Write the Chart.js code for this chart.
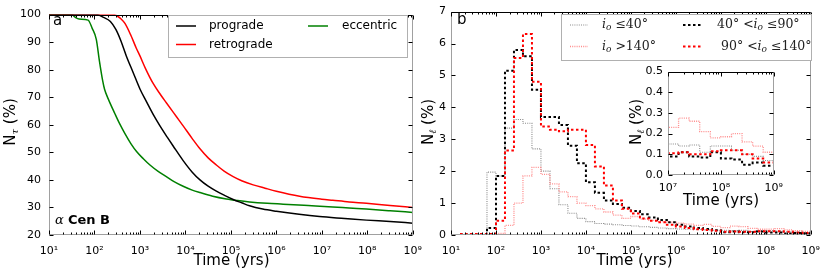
<!DOCTYPE html>
<html>
<head>
<meta charset="utf-8">
<script src="https://cdn.jsdelivr.net/npm/chart.js@4.4.1/dist/chart.umd.min.js"></script>
<style>
  html, body { margin: 0; padding: 0; background: #fff; }
  #wrap { position: relative; width: 830px; height: 274px; overflow: hidden; }
  canvas { position: absolute; }
</style>
</head>
<body>
<div id="wrap">
  <canvas id="chartA" width="432" height="274" style="left:0;top:0"></canvas>
  <canvas id="chartB" width="415" height="274" style="left:415px;top:0"></canvas>
  <canvas id="chartInset" width="170" height="155" style="left:620px;top:60px"></canvas>
</div>
<script>
// ---- panel a: fraction of surviving planets N_tau (%) vs log10(time / yr)
const progradeLogT = [1, 2.05, 2.2, 2.35, 2.47, 2.58, 2.7, 2.85, 3.0, 3.14, 3.3, 3.44, 3.6, 3.73, 3.95, 4.15, 4.32, 4.5, 4.68, 4.87, 5.05, 5.25, 5.41, 5.7, 6.0, 6.5, 6.95, 7.5, 7.98, 8.5, 9];
const progradeN    = [100, 100, 99, 97.5, 94.6, 90.5, 85, 79, 73, 68.5, 63.5, 59.6, 55.5, 52.3, 47, 42.8, 40, 37.7, 35.9, 34.3, 32.9, 31.6, 30.6, 29.4, 28.6, 27.5, 26.7, 26.0, 25.4, 24.9, 24.3];
const retroLogT = [1, 2.42, 2.5, 2.58, 2.67, 2.8, 2.92, 3.0, 3.12, 3.29, 3.45, 3.58, 3.8, 3.95, 4.15, 4.32, 4.5, 4.68, 4.85, 5.05, 5.25, 5.49, 5.75, 6.0, 6.51, 7.0, 7.24, 7.6, 7.98, 8.5, 9];
const retroN    = [100, 100, 99.5, 98.5, 96.8, 92.5, 87.8, 85, 80.5, 75, 71, 68, 63, 59.6, 55, 51.3, 48, 45.4, 43.2, 41.2, 39.6, 38.2, 37, 35.9, 34.1, 33, 32.6, 32, 31.5, 30.7, 30.0];
const eccLogT = [1, 1.5, 1.58, 1.66, 1.86, 1.95, 2.04, 2.11, 2.18, 2.22, 2.3, 2.45, 2.55, 2.67, 2.8, 2.93, 3.08, 3.22, 3.4, 3.58, 3.75, 3.95, 4.15, 4.32, 4.6, 4.9, 5.15, 5.41, 5.8, 6.15, 6.7, 7.24, 7.6, 7.98, 8.5, 9];
const eccN    = [100, 100, 99, 98.4, 98.0, 95, 91, 83, 76, 73, 69.5, 64, 60.5, 56.8, 53.2, 50.2, 47.6, 45.4, 43.1, 41.2, 39.4, 37.7, 36.3, 35.4, 34.1, 33.1, 32.5, 32.0, 31.5, 31.2, 30.7, 30.2, 29.8, 29.4, 28.8, 28.2];

// ---- panel b: histograms N_l (%), bins 0.2 dex wide from 10^1 to 10^9
const binStartLog = 1;
const binWidthLog = 0.2;
const lowIncl   = [null, 0.02, 0.02, 0.02, 1.97, 1.85, 3.35, 3.62, 3.5, 2.7, 2.0, 1.45, 0.95, 0.68, 0.52, 0.42, 0.36, 0.34, 0.32, 0.3, 0.28, 0.26, 0.24, 0.22, 0.2, 0.19, 0.18, 0.17, 0.16, 0.15, 0.15, 0.14, 0.145, 0.11, 0.14, 0.14, 0.12, 0.1, 0.09, 0.07];
const midIncl   = [null, 0.02, 0.02, 0.02, 0.22, 1.85, 5.15, 5.8, 5.6, 4.55, 3.7, 3.7, 3.45, 2.8, 2.25, 1.65, 1.32, 1.08, 0.97, 0.85, 0.75, 0.65, 0.55, 0.47, 0.4, 0.32, 0.27, 0.22, 0.19, 0.15, 0.09, 0.11, 0.09, 0.085, 0.11, 0.08, 0.075, 0.05, 0.06, 0.045];
const retroIncl = [null, 0.03, 0.03, 0.03, 0.03, 0.45, 2.65, 5.55, 6.3, 4.8, 3.4, 3.3, 3.25, 3.3, 3.3, 2.82, 2.15, 1.55, 1.08, 0.82, 0.67, 0.52, 0.45, 0.4, 0.32, 0.27, 0.22, 0.18, 0.16, 0.13, 0.105, 0.11, 0.1, 0.1, 0.115, 0.12, 0.12, 0.1, 0.08, 0.06];
const highIncl  = [null, 0.01, 0.01, 0.01, 0.01, 0.05, 0.3, 1.0, 1.85, 2.12, 1.9, 1.6, 1.35, 1.2, 1.0, 0.92, 0.82, 0.72, 0.62, 0.52, 0.58, 0.5, 0.46, 0.42, 0.4, 0.37, 0.34, 0.3, 0.33, 0.27, 0.23, 0.275, 0.26, 0.21, 0.18, 0.185, 0.2, 0.16, 0.14, 0.11];

// tick labels
const timeTickExps  = [1, 2, 3, 4, 5, 6, 7, 8, 9];
const insetTickExps = [7, 8, 9];

const SANS = '"DejaVu Sans", sans-serif';
const SERIF = '"DejaVu Serif", serif';
const SUP = ['⁰', '¹', '²', '³', '⁴', '⁵', '⁶', '⁷', '⁸', '⁹'];

Chart.defaults.font.family = SANS;
Chart.defaults.color = '#000';

const curve = (logs, vals) => logs.map((l, i) => ({x: Math.pow(10, l), y: vals[i]}));
const steps = vals => {
    const pts = vals.map((v, k) => ({x: Math.pow(10, binStartLog + binWidthLog * k), y: v}));
    pts.push({x: Math.pow(10, binStartLog + binWidthLog * vals.length), y: vals[vals.length - 1]});
    return pts;
};

const histStyles = {
    low:   {borderColor: '#8a8a8a', borderWidth: 1.1, borderDash: [1, 1.2]},
    high:  {borderColor: '#ff8c8c', borderWidth: 1.3, borderDash: [1, 1.2]},
    mid:   {borderColor: '#000000', borderWidth: 2, borderDash: [2.5, 2.5]},
    retro: {borderColor: '#ff0000', borderWidth: 2, borderDash: [2.5, 2.5]}
};

const histDatasets = () => [
    Object.assign({data: steps(retroIncl)}, histStyles.retro),
    Object.assign({data: steps(midIncl)}, histStyles.mid),
    Object.assign({data: steps(highIncl)}, histStyles.high),
    Object.assign({data: steps(lowIncl)}, histStyles.low)
].map(d => Object.assign(d, {stepped: true, pointRadius: 0, fill: false, spanGaps: false, borderCapStyle: 'butt'}));

// rich text: parts = [text, font, dy]
function drawRich(ctx, x, y, parts, align) {
    let w = 0;
    parts.forEach(p => { ctx.font = p[1]; w += ctx.measureText(p[0]).width; });
    let cx = align === 'center' ? x - w / 2 : x;
    ctx.textAlign = 'left';
    parts.forEach(p => {
        ctx.font = p[1];
        ctx.fillText(p[0], cx, y + (p[2] || 0));
        cx += ctx.measureText(p[0]).width;
    });
}

function drawVertTitle(ctx, baseX, centerY, parts) {
    ctx.save();
    ctx.translate(baseX, centerY);
    ctx.rotate(-Math.PI / 2);
    ctx.textBaseline = 'alphabetic';
    drawRich(ctx, 0, 0, parts, 'center');
    ctx.restore();
}

function sampleLine(ctx, x0, x1, y, st) {
    ctx.save();
    ctx.strokeStyle = st.borderColor;
    ctx.lineWidth = st.borderWidth;
    ctx.setLineDash(st.borderDash || []);
    ctx.beginPath();
    ctx.moveTo(x0, y);
    ctx.lineTo(x1, y);
    ctx.stroke();
    ctx.restore();
}

// spines + inward ticks on all four sides
const frame = {
    id: 'frame',
    afterDatasetsDraw(chart) {
        const {ctx, chartArea: a, scales: {x, y}} = chart;
        const L = Math.round(a.left) + 0.5, R = Math.round(a.right) - 0.5;
        const T = Math.round(a.top) + 0.5, B = Math.round(a.bottom) - 0.5;
        ctx.save();
        ctx.lineWidth = 1;
        ctx.strokeStyle = '#a0a0a0';
        ctx.beginPath();
        ctx.moveTo(L, B); ctx.lineTo(L, T);
        ctx.moveTo(R, T); ctx.lineTo(R, B); ctx.lineTo(L, B);
        ctx.stroke();
        ctx.strokeStyle = '#000';
        ctx.beginPath();
        ctx.moveTo(L, T); ctx.lineTo(R, T);
        const lo = Math.round(Math.log10(x.min)), hi = Math.round(Math.log10(x.max));
        for (let d = lo; d <= hi; d++) {
            for (let m = 1; m <= 9; m++) {
                const v = m * Math.pow(10, d);
                if (v > x.max * 1.001) continue;
                const px = Math.round(x.getPixelForValue(v)) + 0.5;
                const len = m === 1 ? 4 : 2;
                ctx.moveTo(px, B); ctx.lineTo(px, B - len);
                ctx.moveTo(px, T); ctx.lineTo(px, T + len);
            }
        }
        y.ticks.forEach(t => {
            const py = Math.round(y.getPixelForValue(t.value)) + 0.5;
            ctx.moveTo(L, py); ctx.lineTo(L + 4, py);
            ctx.moveTo(R, py); ctx.lineTo(R - 4, py);
        });
        ctx.stroke();
        ctx.restore();
    }
};

function logAxis(min, max, exps, pad, height) {
    return {
        type: 'logarithmic', min: min, max: max,
        grid: {display: false, drawTicks: false}, border: {display: false},
        afterBuildTicks: s => { s.ticks = exps.map(e => ({value: Math.pow(10, e)})); },
        afterFit: s => { s.height = height; },
        ticks: {
            autoSkip: false, maxRotation: 0, padding: pad,
            font: {size: 11},
            callback: v => '10' + SUP[Math.round(Math.log10(v))]
        }
    };
}

function linAxis(min, max, step, pad, width, digits) {
    return {
        type: 'linear', min: min, max: max,
        grid: {display: false, drawTicks: false}, border: {display: false},
        afterFit: s => { s.width = width; },
        ticks: {
            stepSize: step, padding: pad, font: {size: 11},
            callback: v => digits ? v.toFixed(digits) : String(v)
        }
    };
}

const baseOpts = {
    responsive: false, animation: false, devicePixelRatio: 1,
    plugins: {legend: {display: false}, tooltip: {enabled: false}}
};

// ---------------- panel a ----------------
const annotA = {
    id: 'annotA',
    afterDraw(chart) {
        const ctx = chart.ctx;
        ctx.save();
        // legend
        ctx.fillStyle = '#fff';
        ctx.fillRect(168, 15, 239, 42);
        ctx.strokeStyle = '#b0b0b0';
        ctx.lineWidth = 1;
        ctx.strokeRect(168.5, 15.5, 239, 42);
        sampleLine(ctx, 176, 196, 26, {borderColor: '#000', borderWidth: 1.5});
        sampleLine(ctx, 176, 196, 44.5, {borderColor: '#ff0000', borderWidth: 1.5});
        sampleLine(ctx, 308, 328, 26, {borderColor: '#008000', borderWidth: 1.5});
        ctx.fillStyle = '#000';
        ctx.textBaseline = 'middle';
        ctx.font = '12px ' + SANS;
        ctx.fillText('prograde', 209, 26);
        ctx.fillText('retrograde', 209, 44.5);
        ctx.fillText('eccentric', 342, 26);
        // labels
        ctx.textBaseline = 'alphabetic';
        ctx.font = '15px ' + SANS;
        ctx.fillText('a', 53, 25);
        drawRich(ctx, 55, 224, [['α ', 'italic 13px ' + SERIF], ['Cen B', 'bold 13px ' + SANS]]);
        ctx.font = '15px ' + SANS;
        ctx.textAlign = 'center';
        ctx.fillText('Time (yrs)', 231.5, 265);
        drawVertTitle(ctx, 15, 122, [['N', '15px ' + SANS], ['τ', 'italic 10px ' + SERIF, 3], [' (%)', '15px ' + SANS]]);
        ctx.restore();
    }
};

new Chart(document.getElementById('chartA'), {
    type: 'line',
    data: {
        datasets: [
            {data: curve(progradeLogT, progradeN), borderColor: '#000000'},
            {data: curve(retroLogT, retroN), borderColor: '#ff0000'},
            {data: curve(eccLogT, eccN), borderColor: '#008000'}
        ].map(d => Object.assign(d, {borderWidth: 1.5, pointRadius: 0, fill: false, cubicInterpolationMode: 'monotone'}))
    },
    options: Object.assign({}, baseOpts, {
        layout: {padding: {left: 0, top: 8, right: 18, bottom: 0}},
        scales: {
            x: logAxis(10, 1e9, timeTickExps, 10, 39),
            y: linAxis(20, 100, 10, 8, 49, 0)
        }
    }),
    plugins: [frame, annotA]
});

// ---------------- panel b ----------------
const annotB = {
    id: 'annotB',
    afterDraw(chart) {
        const ctx = chart.ctx;
        ctx.save();
        ctx.fillStyle = '#fff';
        ctx.fillRect(146, 14, 250, 46);
        ctx.strokeStyle = '#b0b0b0';
        ctx.lineWidth = 1;
        ctx.strokeRect(146.5, 14.5, 250, 46);
        sampleLine(ctx, 155, 173, 25, histStyles.low);
        sampleLine(ctx, 155, 173, 46.5, histStyles.high);
        sampleLine(ctx, 268, 287, 25, histStyles.mid);
        sampleLine(ctx, 268, 287, 46.5, histStyles.retro);
        ctx.fillStyle = '#222';
        ctx.textBaseline = 'middle';
        const it = 'italic 12.5px ' + SERIF, rm = '12.5px ' + SERIF, sb = 'italic 9px ' + SERIF;
        drawRich(ctx, 187, 25, [['i', it], ['o', sb, 3], [' ≤40°', rm]]);
        drawRich(ctx, 187, 46.5, [['i', it], ['o', sb, 3], [' >140°', rm]]);
        drawRich(ctx, 302, 25, [['40° <', rm], ['i', it], ['o', sb, 3], [' ≤90°', rm]]);
        drawRich(ctx, 306, 46.5, [['90° <', rm], ['i', it], ['o', sb, 3], [' ≤140°', rm]]);
        ctx.fillStyle = '#000';
        ctx.textBaseline = 'alphabetic';
        ctx.font = '15px ' + SANS;
        ctx.fillText('b', 42, 24);
        ctx.textAlign = 'center';
        ctx.fillText('Time (yrs)', 219.5, 265);
        drawVertTitle(ctx, 18, 122, [['N', '15px ' + SANS], ['ℓ', 'italic 10px ' + SERIF, 3], [' (%)', '15px ' + SANS]]);
        ctx.restore();
    }
};

new Chart(document.getElementById('chartB'), {
    type: 'line',
    data: {datasets: histDatasets()},
    options: Object.assign({}, baseOpts, {
        layout: {padding: {left: 0, top: 8, right: 12, bottom: 0}},
        scales: {
            x: logAxis(10, 1e9, timeTickExps, 10, 39),
            y: linAxis(0, 7, 1, 5, 36, 0)
        }
    }),
    plugins: [frame, annotB]
});

// ---------------- inset ----------------
const annotInset = {
    id: 'annotInset',
    beforeDatasetsDraw(chart) {
        const {ctx, chartArea: a} = chart;
        ctx.save();
        ctx.fillStyle = '#fff';
        ctx.fillRect(a.left, a.top, a.right - a.left, a.bottom - a.top);
        ctx.restore();
    },
    afterDraw(chart) {
        const ctx = chart.ctx;
        ctx.save();
        ctx.fillStyle = '#000';
        ctx.font = '15px ' + SANS;
        ctx.textAlign = 'center';
        ctx.textBaseline = 'alphabetic';
        ctx.fillText('Time (yrs)', 101, 145);
        drawVertTitle(ctx, 21, 62, [['N', '15px ' + SANS], ['ℓ', 'italic 10px ' + SERIF, 3], [' (%)', '15px ' + SANS]]);
        ctx.restore();
    }
};

new Chart(document.getElementById('chartInset'), {
    type: 'line',
    data: {datasets: histDatasets()},
    options: Object.assign({}, baseOpts, {
        layout: {padding: {left: 0, top: 8, right: 16, bottom: 0}},
        scales: {
            x: logAxis(1e7, 1e9, insetTickExps, 7, 40),
            y: linAxis(0, 0.5, 0.1, 5, 48, 1)
        }
    }),
    plugins: [annotInset, frame]
});
</script>
</body>
</html>
